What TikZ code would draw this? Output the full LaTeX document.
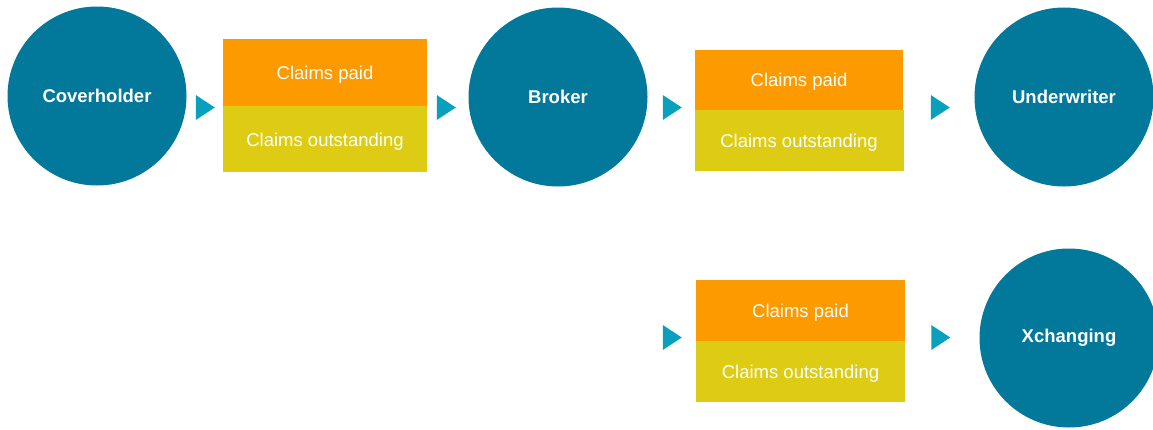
\documentclass[tikz,border=0pt]{standalone}
\usepackage{fontspec}
\setmainfont{Liberation Sans}
\usepackage{xcolor}
\usepackage{tikz}
\usetikzlibrary{shapes.geometric,positioning}
\definecolor{partyblue}{HTML}{02789B}
\definecolor{paidorange}{HTML}{FC9A00}
\definecolor{outyellow}{HTML}{DDCC13}
\definecolor{arrowteal}{HTML}{08A0BD}
\tikzset{party/.style={circle,fill=partyblue,minimum size=179pt,inner sep=0pt,text=white,font=\fontsize{18.5}{22}\selectfont\bfseries},
paid/.style={rectangle,fill=paidorange,inner sep=0pt,text depth=0pt,text=white,font=\fontsize{18.5}{22}\selectfont},
outst/.style={rectangle,fill=outyellow,inner sep=0pt,text depth=0pt,text=white,font=\fontsize{18.5}{22}\selectfont},
tri/.style={isosceles triangle,isosceles triangle stretches,fill=arrowteal,inner sep=0pt,minimum width=25pt,minimum height=19pt}}
\begin{document}
\begin{tikzpicture}[x=1pt,y=-1pt]
        \useasboundingbox (0,0) rectangle (1153,429);
        \node[party] (cov) at (97,96) {Coverholder};
        \node[party] (bro) at (558,97) {Broker};
        \node[party] (und) at (1064,97) {Underwriter};
        \node[party] (xch) at (1069,338) {Xchanging};

        \node[paid,minimum width=204pt,minimum height=67pt] (p1) at (325,72.5) {Claims paid};
        \node[outst,minimum width=204pt,minimum height=66pt,below=0pt of p1] (o1) {Claims outstanding};
        \node[paid,minimum width=208pt,minimum height=60pt] (p2) at (799,80) {Claims paid};
        \node[outst,minimum width=209pt,minimum height=61pt,below=0pt of p2] (o2) {Claims outstanding};
        \node[paid,minimum width=209pt,minimum height=61pt] (p3) at (800.5,310.5) {Claims paid};
        \node[outst,minimum width=209pt,minimum height=61pt,below=0pt of p3] (o3) {Claims outstanding};

        \node[tri] (t1) at (202.5,107.5) {};
        \node[tri] (t2) at (443.5,107.5) {};
        \node[tri] (t3) at (669.5,107.5) {};
        \node[tri] (t4) at (937.5,107.5) {};
        \node[tri] (t5) at (669.5,337.5) {};
        \node[tri] (t6) at (938,337.5) {};
    \end{tikzpicture}
\end{document}
